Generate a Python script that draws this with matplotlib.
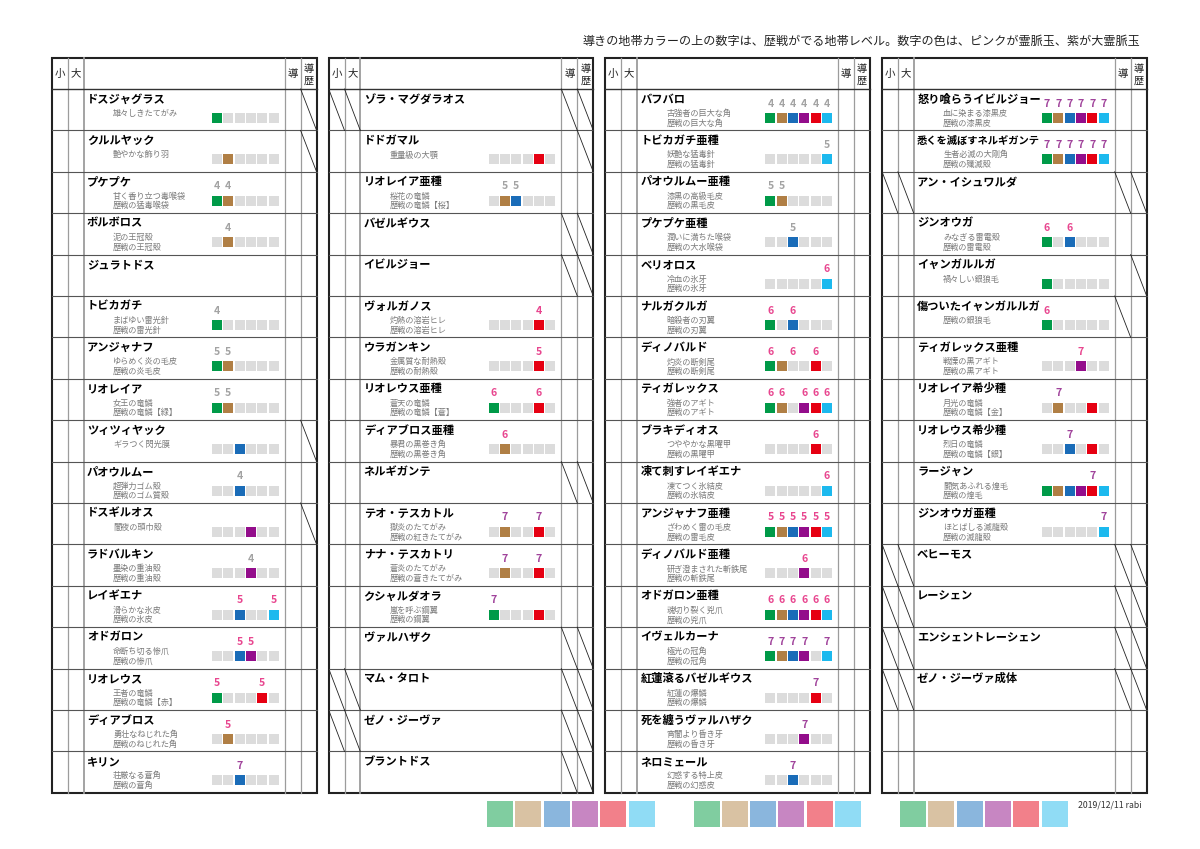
import matplotlib

matplotlib.use("Agg")

import matplotlib.pyplot as plt
import numpy as np
from matplotlib.patches import Rectangle

plt.rcParams["font.family"] = ["Noto Sans CJK JP", "DejaVu Sans"]

NOTE = "導きの地帯カラーの上の数字は、歴戦がでる地帯レベル。数字の色は、ピンクが霊脈玉、紫が大霊脈玉"
SIGNATURE = "2019/12/11 rabi"
HEADERS = ["小", "大", "", "導", "導\n歴"]

# slot order: 森, 荒地, 陸珊瑚, 瘴気, 溶岩, 冷気
SLOT_COLORS = ["#009a48", "#b07f45", "#1a6cb8", "#930d8b", "#e60012", "#1cb9ee"]
SWATCH_COLORS = ["#80cda0", "#d9c2a3", "#8ab6dd", "#c786c2", "#f2808a", "#90dcf5"]
LEVEL_COLORS = {"g": "#a3a3a3", "p": "#e8468f", "v": "#a0439b"}

# --- table 1 ---
NAMES_1 = ["ドスジャグラス", "クルルヤック", "プケプケ", "ボルボロス", "ジュラトドス", "トビカガチ",
           "アンジャナフ", "リオレイア", "ツィツィヤック", "パオウルムー", "ドスギルオス", "ラドバルキン",
           "レイギエナ", "オドガロン", "リオレウス", "ディアブロス", "キリン"]
SUBS_1 = ["雄々しきたてがみ", "艶やかな飾り羽", "甘く香り立つ毒喉袋/歴戦の猛毒喉袋", "泥の王冠殻/歴戦の王冠殻", "",
          "まばゆい雷光針/歴戦の雷光針", "ゆらめく炎の毛皮/歴戦の炎毛皮", "女王の竜鱗/歴戦の竜鱗【緑】",
          "ギラつく閃光膜", "超弾力ゴム殻/歴戦のゴム質殻", "闇夜の頭巾殻", "墨染の重油殻/歴戦の重油殻",
          "滑らかな氷皮/歴戦の氷皮", "命断ち切る惨爪/歴戦の惨爪", "王者の竜鱗/歴戦の竜鱗【赤】",
          "勇壮なねじれた角/歴戦のねじれた角", "荘厳なる蒼角/歴戦の蒼角"]
SLOTS_1 = ["100000", "010000", "110000", "010000", "", "100000", "110000", "110000", "001000",
           "001000", "000100", "000100", "001001", "001100", "100010", "010000", "001000"]
LEVELS_1 = ["", "", "44----", "-4----", "", "4-----", "55----", "55----", "", "--4---", "",
            "---4--", "--5--5", "--55--", "5---5-", "-5----", "--7---"]
LVCOL_1 = "--gg-ggg-g-gppppv"
SLASH_1 = ["0001", "0001", "0000", "0000", "0000", "0000", "0000", "0000", "0001", "0000", "0001",
           "0000", "0000", "0000", "0000", "0000", "0000"]

# --- table 2 ---
NAMES_2 = ["ゾラ・マグダラオス", "ドドガマル", "リオレイア亜種", "バゼルギウス", "イビルジョー", "ヴォルガノス",
           "ウラガンキン", "リオレウス亜種", "ディアブロス亜種", "ネルギガンテ", "テオ・テスカトル",
           "ナナ・テスカトリ", "クシャルダオラ", "ヴァルハザク", "マム・タロト", "ゼノ・ジーヴァ", "ブラントドス"]
SUBS_2 = ["", "重量級の大顎", "桜花の竜鱗/歴戦の竜鱗【桜】", "", "", "灼熱の溶岩ヒレ/歴戦の溶岩ヒレ",
          "金属質な耐熱殻/歴戦の耐熱殻", "蒼天の竜鱗/歴戦の竜鱗【蒼】", "暴君の黒巻き角/歴戦の黒巻き角", "",
          "獄炎のたてがみ/歴戦の紅きたてがみ", "蒼炎のたてがみ/歴戦の蒼きたてがみ", "嵐を呼ぶ鋼翼/歴戦の鋼翼",
          "", "", "", ""]
SLOTS_2 = ["", "000010", "011000", "", "", "000010", "000010", "100010", "010000", "", "010010",
           "010010", "100010", "", "", "", ""]
LEVELS_2 = ["", "", "-55---", "", "", "----4-", "----5-", "6---6-", "-6----", "", "-7--7-",
            "-7--7-", "7-----", "", "", "", ""]
LVCOL_2 = "--g--pppp-vvv----"
SLASH_2 = ["1111", "0001", "0000", "0011", "0011", "0000", "0000", "0000", "0000", "0011", "0000",
           "0000", "0000", "0011", "1111", "1111", "0011"]

# --- table 3 ---
NAMES_3 = ["バフバロ", "トビカガチ亜種", "パオウルムー亜種", "プケプケ亜種", "ベリオロス", "ナルガクルガ",
           "ディノバルド", "ティガレックス", "ブラキディオス", "凍て刺すレイギエナ", "アンジャナフ亜種",
           "ディノバルド亜種", "オドガロン亜種", "イヴェルカーナ", "紅蓮滾るバゼルギウス", "死を纏うヴァルハザク",
           "ネロミェール"]
SUBS_3 = ["古強者の巨大な角/歴戦の巨大な角", "妖艶な猛毒針/歴戦の猛毒針", "漆黒の高級毛皮/歴戦の黒毛皮",
          "潤いに満ちた喉袋/歴戦の大水喉袋", "冷血の氷牙/歴戦の氷牙", "暗殺者の刃翼/歴戦の刃翼",
          "灼炎の断剣尾/歴戦の断剣尾", "強者のアギト/歴戦のアギト", "つややかな黒曜甲/歴戦の黒曜甲",
          "凍てつく氷結皮/歴戦の氷結皮", "ざわめく雷の毛皮/歴戦の雷毛皮", "研ぎ澄まされた斬鉄尾/歴戦の斬鉄尾",
          "魂切り裂く兇爪/歴戦の兇爪", "極光の冠角/歴戦の冠角", "紅蓮の爆鱗/歴戦の爆鱗",
          "宵闇より昏き牙/歴戦の昏き牙", "幻惑する特上皮/歴戦の幻惑皮"]
SLOTS_3 = ["111111", "000001", "110000", "001000", "000001", "101000", "110010", "110111", "000010",
           "000001", "111111", "000100", "111111", "111101", "000010", "000100", "001000"]
LEVELS_3 = ["444444", "-----5", "55----", "--5---", "-----6", "6-6---", "6-6-6-", "66-666", "----6-",
            "-----6", "555555", "---6--", "666666", "7777-7", "----7-", "---7--", "--7---"]
LVCOL_3 = "ggggpppppppppvvvv"
SLASH_3 = ["0000"] * 17

# --- table 4 ---
NAMES_4 = ["怒り喰らうイビルジョー", "悉くを滅ぼすネルギガンテ", "アン・イシュワルダ", "ジンオウガ", "イャンガルルガ",
           "傷ついたイャンガルルガ", "ティガレックス亜種", "リオレイア希少種", "リオレウス希少種", "ラージャン",
           "ジンオウガ亜種", "ベヒーモス", "レーシェン", "エンシェントレーシェン", "ゼノ・ジーヴァ成体", "", ""]
SUBS_4 = ["血に染まる漆黒皮/歴戦の漆黒皮", "生者必滅の大剛角/歴戦の殲滅殻", "", "みなぎる雷電殻/歴戦の雷電殻",
          "禍々しい銀狼毛", "歴戦の銀狼毛", "戦慄の黒アギト/歴戦の黒アギト", "月光の竜鱗/歴戦の竜鱗【金】",
          "烈日の竜鱗/歴戦の竜鱗【銀】", "闘気あふれる煌毛/歴戦の煌毛", "ほとばしる滅龍殻/歴戦の滅龍殻",
          "", "", "", "", "", ""]
SLOTS_4 = ["111111", "111111", "", "101000", "100000", "100000", "000100", "010010", "001010",
           "111111", "000001", "", "", "", "", "", ""]
LEVELS_4 = ["777777", "777777", "", "6-6---", "", "6-----", "---7--", "-7----", "--7---", "----7-",
            "-----7", "", "", "", "", "", ""]
LVCOL_4 = "vv-p-ppvvvv------"
SLASH_4 = ["0000", "0000", "1111", "0000", "0001", "0010", "0000", "0000", "0000", "0000", "0000",
           "1111", "1111", "1111", "1111", "0000", "0000"]

TABLES = [
    (NAMES_1, SUBS_1, SLOTS_1, LEVELS_1, LVCOL_1, SLASH_1),
    (NAMES_2, SUBS_2, SLOTS_2, LEVELS_2, LVCOL_2, SLASH_2),
    (NAMES_3, SUBS_3, SLOTS_3, LEVELS_3, LVCOL_3, SLASH_3),
    (NAMES_4, SUBS_4, SLOTS_4, LEVELS_4, LVCOL_4, SLASH_4),
]

# layout (pixel units of the 1200x849 canvas)
TABLE_X0 = 52.0
TABLE_STEP = 276.7
TABLE_TOP = 58.0
HEAD_BOTTOM = 89.0
ROW_H = 41.4
COL_W = [15.8, 15.8, 201.0, 16.0, 16.0]
SQ_X = 160.0
SQ_STEP = 11.3
SQ_W = 10.0


def fit_text(fig, txt, right_limit):
    # shrink long names so they stop just before the level digits
    renderer = fig.canvas.get_renderer()
    size = txt.get_fontsize()
    while size > 6.0:
        bbox = txt.get_window_extent(renderer)
        if bbox.x1 <= right_limit:
            break
        size -= 0.1
        txt.set_fontsize(size)


def draw_table(fig, ax, x0, names, subs, slots, levels, lvcol, slashes):
    edges = x0 + np.cumsum([0.0] + COL_W)
    n = len(names)
    bottom = HEAD_BOTTOM + n * ROW_H

    for i, xe in enumerate(edges[1:-1]):
        ax.plot([xe, xe], [TABLE_TOP, bottom], color="#9c9c9c", lw=1.3 if i == 1 else 0.9)
    for r in range(1, n):
        y = HEAD_BOTTOM + r * ROW_H
        ax.plot([edges[0], edges[-1]], [y, y], color="#555555", lw=0.8)
    ax.plot([edges[0], edges[-1]], [HEAD_BOTTOM, HEAD_BOTTOM], color="#333333", lw=1.0)
    ax.add_patch(Rectangle((edges[0], TABLE_TOP), edges[-1] - edges[0], bottom - TABLE_TOP,
                           fill=False, ec="#222222", lw=1.5))

    for i, label in enumerate(HEADERS):
        if not label:
            continue
        cx = (edges[i] + edges[i + 1]) / 2
        if "\n" in label:
            top_ch, low_ch = label.split("\n")
            ax.text(cx, 69, top_ch, ha="center", va="center", fontsize=7.3, color="#222222")
            ax.text(cx, 81, low_ch, ha="center", va="center", fontsize=7.3, color="#222222")
        else:
            ax.text(cx, 73.5, label, ha="center", va="center", fontsize=7.5, color="#222222")

    cells = [0, 1, 3, 4]
    for r in range(n):
        top = HEAD_BOTTOM + r * ROW_H
        for k, cell in enumerate(cells):
            if slashes[r][k] == "1":
                ax.plot([edges[cell], edges[cell + 1]], [top, top + ROW_H], color="#222222", lw=0.6)
        if names[r]:
            txt = ax.text(x0 + 35, top + 10, names[r], ha="left", va="center", fontsize=8.1,
                          fontweight="bold", color="#000000")
            if levels[r].startswith(("4", "5", "6", "7")):
                fit_text(fig, txt, x0 + SQ_X - 1)
        if subs[r]:
            for j, line in enumerate(subs[r].split("/")):
                ax.text(x0 + 61, top + 24.5 + 9.5 * j, line, ha="left", va="center",
                        fontsize=5.9, color="#7a7a7a")
        if slots[r]:
            for j, flag in enumerate(slots[r]):
                sx = x0 + SQ_X + j * SQ_STEP
                color = SLOT_COLORS[j] if flag == "1" else "#dcdcdc"
                ax.add_patch(Rectangle((sx, top + 24), SQ_W, 10, fc=color, ec="none"))
        if levels[r]:
            for j, ch in enumerate(levels[r]):
                if ch == "-":
                    continue
                sx = x0 + SQ_X + j * SQ_STEP + SQ_W / 2
                ax.text(sx, top + 14.5, ch, ha="center", va="center", fontsize=7.6,
                        fontweight="bold", color=LEVEL_COLORS[lvcol[r]])


fig = plt.figure(figsize=(12, 8.49), dpi=100)
ax = fig.add_axes([0, 0, 1, 1])
ax.set_xlim(0, 1200)
ax.set_ylim(849, 0)
ax.axis("off")

ax.text(1140, 41, NOTE, ha="right", va="center", fontsize=8.7, color="#222222")

for t, table in enumerate(TABLES):
    draw_table(fig, ax, TABLE_X0 + t * TABLE_STEP, *table)

# colour legend strip under the tables
for g, gx in enumerate([487.0, 693.5, 900.0]):
    for j, color in enumerate(SWATCH_COLORS):
        ax.add_patch(Rectangle((gx + j * 28.3, 801), 26, 26, fc=color, ec="none"))

ax.text(1078, 805, SIGNATURE, ha="left", va="center", fontsize=6.3, color="#333333")

fig.savefig("out.png", dpi=100)
plt.close(fig)
